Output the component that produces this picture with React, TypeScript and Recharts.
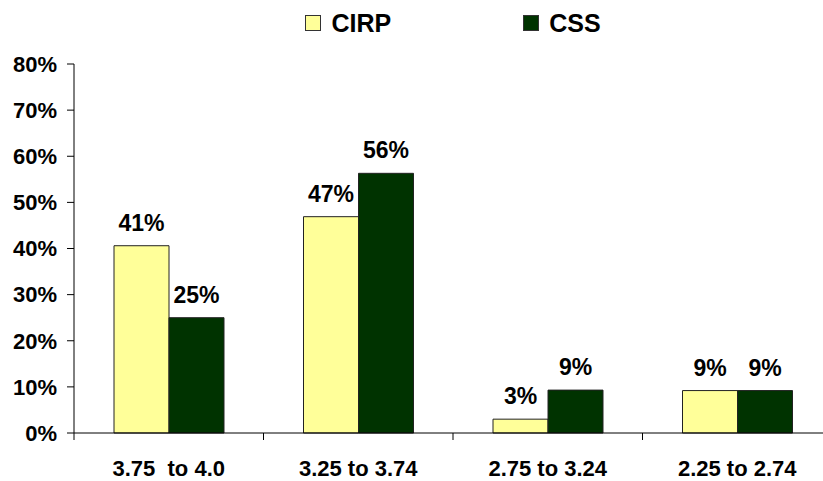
import { BarChart, Bar, XAxis, YAxis, LabelList } from "recharts";

const categories = ["3.75  to 4.0", "3.25 to 3.74", "2.75 to 3.24", "2.25 to 2.74"];
const cirpValues = [40.6, 46.9, 3.0, 9.2];
const cssValues = [25.0, 56.3, 9.3, 9.2];
const yTicks = [0, 10, 20, 30, 40, 50, 60, 70, 80];

const seriesInfo = [
  { key: "cirp", name: "CIRP", color: "#FFFF99" },
  { key: "css", name: "CSS", color: "#003300" },
];

const data = categories.map((cat, i) => ({
  cat,
  cirp: cirpValues[i],
  css: cssValues[i],
}));

const FONT = "'Liberation Sans', Arial, sans-serif";
const CHART_W = 840;
const CHART_H = 481;
const MARGIN = { top: 64, right: 8, bottom: 8, left: 0 };
const Y_W = 74;
const PLOT_W = CHART_W - MARGIN.left - MARGIN.right - Y_W;
const BAND = PLOT_W / categories.length;

function CategoryTick(props: any) {
  const { x, y, payload } = props;
  const bx = x - BAND / 2;
  return (
    <g>
      <line x1={bx} y1={y} x2={bx} y2={y + 7} stroke="#000" />
      <text
        x={x}
        y={y + 43}
        textAnchor="middle"
        fontFamily={FONT}
        fontWeight="bold"
        fontSize={22}
        fill="#000"
        style={{ whiteSpace: "pre" }}
      >
        {payload.value}
      </text>
    </g>
  );
}

export default function App() {
  return (
    <div
      style={{
        position: "absolute",
        left: 0,
        top: 0,
        width: 823,
        height: 481,
        overflow: "hidden",
        background: "#fff",
        fontFamily: FONT,
      }}
    >
      {/* legend */}
      <div
        style={{
          position: "absolute",
          top: 11,
          left: MARGIN.left + Y_W,
          width: PLOT_W,
          display: "flex",
          justifyContent: "center",
          gap: 132,
        }}
      >
        {seriesInfo.map((s) => (
          <div key={s.key} style={{ display: "flex", alignItems: "center" }}>
            <div
              style={{
                width: 14,
                height: 14,
                background: s.color,
                border: "1px solid #333",
                marginRight: 10,
              }}
            />
            <span style={{ fontSize: 25, fontWeight: "bold", lineHeight: "24px", color: "#000" }}>
              {s.name}
            </span>
          </div>
        ))}
      </div>

      <BarChart
        width={CHART_W}
        height={CHART_H}
        data={data}
        margin={MARGIN}
        barCategoryGap={40}
        barGap={0}
      >
        <XAxis
          dataKey="cat"
          axisLine={{ stroke: "#000" }}
          tickLine={false}
          tickSize={0}
          tickMargin={0}
          height={40}
          interval={0}
          tick={<CategoryTick />}
        />
        <YAxis
          width={Y_W}
          domain={[0, 80]}
          ticks={yTicks}
          interval={0}
          tickFormatter={(v) => `${v}%`}
          axisLine={{ stroke: "#000" }}
          tickLine={{ stroke: "#000" }}
          tickSize={7}
          tickMargin={10}
          tick={{ fontFamily: FONT, fontWeight: "bold", fontSize: 22, fill: "#000" }}
        />
        {seriesInfo.map((s) => (
          <Bar
            key={s.key}
            dataKey={s.key}
            name={s.name}
            fill={s.color}
            stroke="#222"
            strokeWidth={1}
            isAnimationActive={false}
          >
            <LabelList
              dataKey={s.key}
              position="top"
              offset={15}
              formatter={(v: any) => `${Math.round(Number(v))}%`}
              style={{ fontFamily: FONT, fontWeight: "bold", fontSize: 23, fill: "#000" }}
            />
          </Bar>
        ))}
      </BarChart>
    </div>
  );
}
